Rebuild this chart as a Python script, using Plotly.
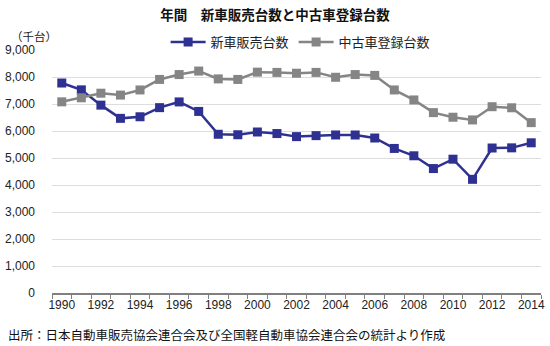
import plotly.graph_objects as go

years = list(range(1990, 2015))
new_car = [7777, 7524, 6958, 6468, 6527, 6865, 7077, 6725, 5879, 5861, 5963, 5906,
           5792, 5828, 5853, 5852, 5740, 5354, 5082, 4609, 4956, 4210, 5370, 5376, 5563]
used_car = [7080, 7230, 7400, 7330, 7520, 7910, 8090, 8220, 7930, 7910, 8180, 8170,
            8140, 8170, 7990, 8090, 8060, 7520, 7150, 6680, 6510, 6410, 6900, 6860, 6310]
y_ticks = [0, 1000, 2000, 3000, 4000, 5000, 6000, 7000, 8000, 9000]
x_ticks = list(range(1990, 2015, 2))

FONT = "Liberation Sans, Noto Sans CJK JP, sans-serif"
JP = "Noto Sans CJK JP, sans-serif"

fig = go.Figure()
fig.add_trace(go.Scatter(x=years, y=new_car, name="新車販売台数", mode="lines+markers",
                         line=dict(color="#2E3192", width=2.5),
                         marker=dict(symbol="square", size=9, color="#2E3192")))
fig.add_trace(go.Scatter(x=years, y=used_car, name="中古車登録台数", mode="lines+markers",
                         line=dict(color="#858585", width=2.5),
                         marker=dict(symbol="square", size=9, color="#858585")))

W, H = 550, 346
L, R, T, B = 50, 5, 50, 53
pw = W - L - R
ph = H - T - B

fig.update_layout(
    width=W, height=H,
    margin=dict(l=L, r=R, t=T, b=B),
    paper_bgcolor="white", plot_bgcolor="white",
    font=dict(family=FONT, size=12, color="#222222"),
    title=dict(text="<b>年間　新車販売台数と中古車登録台数</b>", x=0.5, xanchor="center",
               y=1 - 15 / H, yanchor="middle", font=dict(family=JP, size=13.5, color="#111111")),
    legend=dict(orientation="h", x=(165 - L) / pw, xanchor="left", y=1 + 8 / ph, yanchor="middle",
                font=dict(family=JP, size=13, color="#222222"), bgcolor="rgba(0,0,0,0)",
                itemwidth=35, tracegroupgap=0),
    showlegend=True,
    xaxis=dict(range=[1989.5, 2014.5], tickvals=x_ticks, ticktext=[str(v) for v in x_ticks],
               ticks="", showgrid=False, showline=True, linecolor="#808080", linewidth=1.5,
               zeroline=False, tickfont=dict(size=12, color="#222222"),
               minor=dict(tick0=1989.5, dtick=1, ticks="outside", ticklen=4,
                          tickcolor="#808080", tickwidth=1, showgrid=False)),
    yaxis=dict(range=[0, 9000], tickvals=y_ticks, tickformat=",d", showgrid=True,
               gridcolor="#DDDDDD", gridwidth=1, zeroline=False, showline=False,
               ticks="", ticklabelstandoff=16, tickfont=dict(size=12, color="#222222")),
    annotations=[
        dict(text="（千台）", xref="paper", yref="paper", x=(6 - L) / pw, y=1 + 14 / ph,
             xanchor="left", yanchor="middle", showarrow=False,
             font=dict(family=JP, size=11.5, color="#222222")),
        dict(text="出所：日本自動車販売協会連合会及び全国軽自動車協会連合会の統計より作成",
             xref="paper", yref="paper", x=(3 - L) / pw, y=-(334 - T - ph) / ph,
             xanchor="left", yanchor="middle", showarrow=False,
             font=dict(family=JP, size=12.5, color="#111111")),
    ],
)

fig.write_html("out.html")
